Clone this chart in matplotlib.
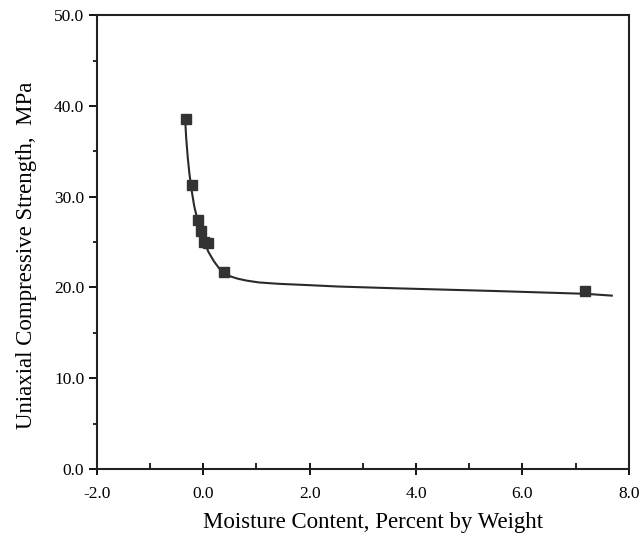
import matplotlib
matplotlib.use("Agg")
import matplotlib.pyplot as plt
from matplotlib.ticker import MultipleLocator, FormatStrFormatter

# Measured data points
moisture = [-0.32, -0.21, -0.09, -0.04, 0.02, 0.09, 0.39, 7.18]
strength = [38.6, 31.3, 27.4, 26.2, 25.0, 24.9, 21.7, 19.6]

# Fitted curve
curve_x = [-0.34, -0.32, -0.29, -0.26, -0.22, -0.17, -0.11, -0.05, 0.02, 0.10,
           0.20, 0.30, 0.40, 0.52, 0.66, 0.82, 1.05, 1.42, 2.0, 2.54, 3.66,
           5.53, 7.18, 7.68]
curve_y = [38.6, 36.5, 34.3, 32.6, 30.8, 29.0, 27.5, 26.2, 25.0, 23.9,
           22.9, 22.1, 21.6, 21.2, 20.95, 20.75, 20.55, 20.4, 20.25, 20.1, 19.9,
           19.6, 19.3, 19.1]

plt.rcParams['font.family'] = ['Liberation Serif', 'DejaVu Serif']

fig = plt.figure(figsize=(6.41, 5.44), dpi=100)
ax = fig.add_axes([0.151, 0.138, 0.830, 0.834])

ax.plot(curve_x, curve_y, color='#2a2a2a', lw=1.5)
ax.plot(moisture, strength, 's', color='#333333', markersize=6.8)

ax.set_xlim(-2, 8)
ax.set_ylim(0, 50)
ax.xaxis.set_major_locator(MultipleLocator(2))
ax.xaxis.set_minor_locator(MultipleLocator(1))
ax.yaxis.set_major_locator(MultipleLocator(10))
ax.yaxis.set_minor_locator(MultipleLocator(5))
ax.xaxis.set_major_formatter(FormatStrFormatter('%.1f'))
ax.yaxis.set_major_formatter(FormatStrFormatter('%.1f'))
ax.tick_params(axis='x', which='major', direction='inout', length=9, width=1.3, labelsize=12.5, pad=8)
ax.tick_params(axis='x', which='minor', direction='in', length=4, width=1.2)
ax.tick_params(axis='y', which='major', direction='out', length=6, width=1.3, labelsize=12.5, pad=3)
ax.tick_params(axis='y', which='minor', direction='out', length=3, width=1.2)
for s in ax.spines.values():
    s.set_linewidth(1.5)
    s.set_color('#222222')

ax.set_xlabel('Moisture Content, Percent by Weight', fontsize=16.5, labelpad=7, x=0.52)
ax.set_ylabel('Uniaxial Compressive Strength,  MPa', fontsize=16.5, labelpad=12, y=0.47)

fig.savefig('out.png', dpi=100)
